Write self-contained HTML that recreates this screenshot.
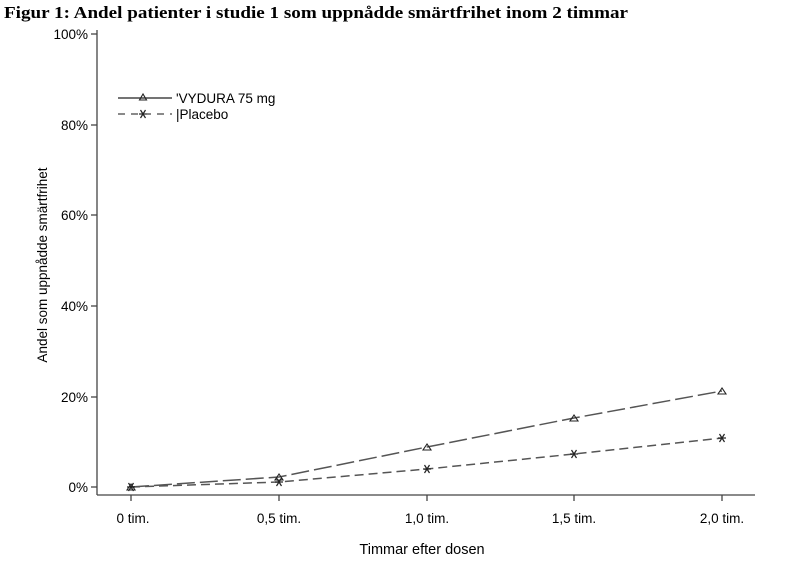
<!DOCTYPE html>
<html><head><style>
body{margin:0;background:#fff;width:804px;height:580px;overflow:hidden}
</style></head><body>
<svg width="804" height="580" xmlns="http://www.w3.org/2000/svg">
<defs>
<g id="st" stroke="#222" stroke-width="1.2"><line x1="-4" y1="0" x2="4" y2="0"/><line x1="-2.5" y1="-4" x2="2.5" y2="4"/><line x1="2.5" y1="-4" x2="-2.5" y2="4"/></g>
</defs>
<text x="4" y="18" font-family="Liberation Serif, serif" font-weight="bold" font-size="17" textLength="624" lengthAdjust="spacingAndGlyphs">Figur 1: Andel patienter i studie 1 som uppnådde smärtfrihet inom 2 timmar</text>
<g stroke="#444" stroke-width="1.3" fill="none">
<line x1="97" y1="30" x2="97" y2="495"/>
<line x1="97" y1="495" x2="755" y2="495"/>
<line x1="91" y1="34" x2="97" y2="34"/>
<line x1="91" y1="125" x2="97" y2="125"/>
<line x1="91" y1="215" x2="97" y2="215"/>
<line x1="91" y1="306" x2="97" y2="306"/>
<line x1="91" y1="397" x2="97" y2="397"/>
<line x1="91" y1="487" x2="97" y2="487"/>
<line x1="131" y1="495" x2="131" y2="501"/>
<line x1="279" y1="495" x2="279" y2="501"/>
<line x1="427" y1="495" x2="427" y2="501"/>
<line x1="574" y1="495" x2="574" y2="501"/>
<line x1="722" y1="495" x2="722" y2="501"/>
</g>
<g font-family="Liberation Sans, sans-serif" font-size="13.5" fill="#000" text-anchor="end">
<text x="88" y="39">100%</text><text x="88" y="130">80%</text><text x="88" y="220">60%</text>
<text x="88" y="311">40%</text><text x="88" y="402">20%</text><text x="88" y="492">0%</text>
</g>
<g font-family="Liberation Sans, sans-serif" font-size="13.5" fill="#000" text-anchor="middle">
<text x="133" y="523">0 tim.</text><text x="279" y="523">0,5 tim.</text><text x="427" y="523">1,0 tim.</text>
<text x="574" y="523">1,5 tim.</text><text x="722" y="523">2,0 tim.</text>
<text x="422" y="554" font-size="14.5">Timmar efter dosen</text>
</g>
<text transform="translate(47,265) rotate(-90)" font-family="Liberation Sans, sans-serif" font-size="13.5" text-anchor="middle">Andel som uppnådde smärtfrihet</text>
<polyline points="131,487 279,477 427,447 574,418 722,391" fill="none" stroke="#555" stroke-width="1.5" stroke-dasharray="18,5"/>
<polyline points="131,487 279,482 427,469 574,454 722,438" fill="none" stroke="#555" stroke-width="1.5" stroke-dasharray="9,5"/>
<g fill="none" stroke="#222" stroke-width="1.1">
<path d="M131,484 l-4,6 h8z"/><path d="M279,474 l-4,6 h8z"/><path d="M427,444 l-4,6 h8z"/><path d="M574,415 l-4,6 h8z"/><path d="M722,388 l-4,6 h8z"/>
<path d="M143,94 l-3.5,6 h7z"/>
</g>
<use href="#st" x="131" y="487"/><use href="#st" x="279" y="482"/><use href="#st" x="427" y="469"/>
<use href="#st" x="574" y="454"/><use href="#st" x="722" y="438"/><use href="#st" x="143" y="114"/>
<line x1="118" y1="98" x2="172" y2="98" stroke="#222" stroke-width="1.2"/>
<line x1="118" y1="114" x2="172" y2="114" stroke="#444" stroke-width="1.2" stroke-dasharray="7,6"/>
<g font-family="Liberation Sans, sans-serif" font-size="13.5" fill="#000">
<text x="176" y="103">'VYDURA 75 mg</text>
<text x="176" y="119">|Placebo</text>
</g>
</svg>
</body></html>
